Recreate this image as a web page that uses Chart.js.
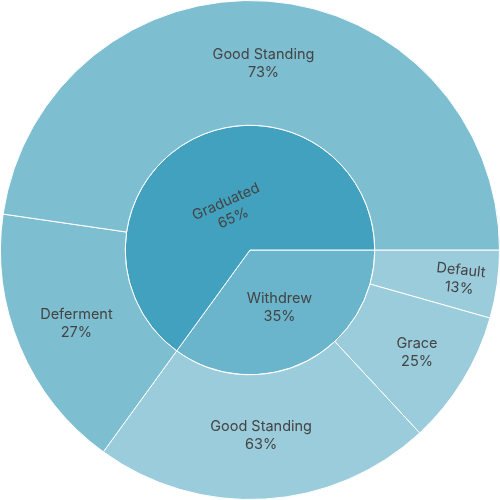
<!DOCTYPE html>
<html>
<head>
<meta charset="utf-8">
<script src="https://cdn.jsdelivr.net/npm/chart.js@4"></script>
<style>
html,body{margin:0;padding:0;background:#fff;}
#wrap{width:500px;height:500px;}
</style>
</head>
<body>
<div id="wrap"><canvas id="c" width="500" height="500"></canvas></div>
<script>
// Inner ring (parents), clockwise from 3 o'clock
const parentLabels = ["Withdrew", "Graduated"];
const parentValues = [35, 65];
const parentPct = ["35%", "65%"];

// Outer ring (children), clockwise from 3 o'clock
const childLabels = ["Default", "Grace", "Good Standing", "Deferment", "Good Standing"];
const childValues = [4.4, 8.7, 21.9, 17.3, 47.7];
const childPct = ["13%", "25%", "63%", "27%", "73%"];

// styles
const parentColors = ["#6AB4CC", "#42A1BF"];
const childColors = ["#9ACCDB", "#9ACCDB", "#9ACCDB", "#7EBED1", "#7EBED1"];
const parentLabelPos = [0.52, 0.36];
const parentLabelRot = [0, -24];
const childLabelPos = [0.70, 0.57, 0.49, 0.51, 0.50];
const childLabelRot = [6, 0, 0, 0, 0];

const labelPlugin = {
  id: 'sunLabels',
  afterDatasetsDraw(chart) {
    const ctx = chart.ctx;
    const sets = [
      {meta: chart.getDatasetMeta(0), names: childLabels, pct: childPct, pos: childLabelPos, rot: childLabelRot},
      {meta: chart.getDatasetMeta(1), names: parentLabels, pct: parentPct, pos: parentLabelPos, rot: parentLabelRot}
    ];
    ctx.save();
    ctx.fillStyle = '#444';
    ctx.font = '14.5px Inter, "Open Sans", sans-serif';
    ctx.textAlign = 'center';
    ctx.textBaseline = 'middle';
    sets.forEach(s => {
      s.meta.data.forEach((arc, i) => {
        const p = arc.getProps(['x','y','startAngle','endAngle','innerRadius','outerRadius'], true);
        const mid = (p.startAngle + p.endAngle) / 2;
        const r = p.innerRadius + s.pos[i] * (p.outerRadius - p.innerRadius);
        const x = p.x + Math.cos(mid) * r;
        const y = p.y + Math.sin(mid) * r;
        ctx.save();
        ctx.translate(x, y);
        ctx.rotate(s.rot[i] * Math.PI / 180);
        ctx.fillText(s.names[i], 0, -9);
        ctx.fillText(s.pct[i], 0, 9);
        ctx.restore();
      });
    });
    ctx.restore();
  }
};

new Chart(document.getElementById('c'), {
  type: 'doughnut',
  data: {
    labels: childLabels,
    datasets: [
      {data: childValues, backgroundColor: childColors, borderColor: '#fff', borderWidth: 1},
      {data: parentValues, backgroundColor: parentColors, borderColor: '#fff', borderWidth: 1}
    ]
  },
  options: {
    responsive: false,
    animation: false,
    rotation: 90,
    cutout: 0,
    layout: {padding: 0},
    plugins: {legend: {display: false}, tooltip: {enabled: false}}
  },
  plugins: [labelPlugin]
});
</script>
</body>
</html>
